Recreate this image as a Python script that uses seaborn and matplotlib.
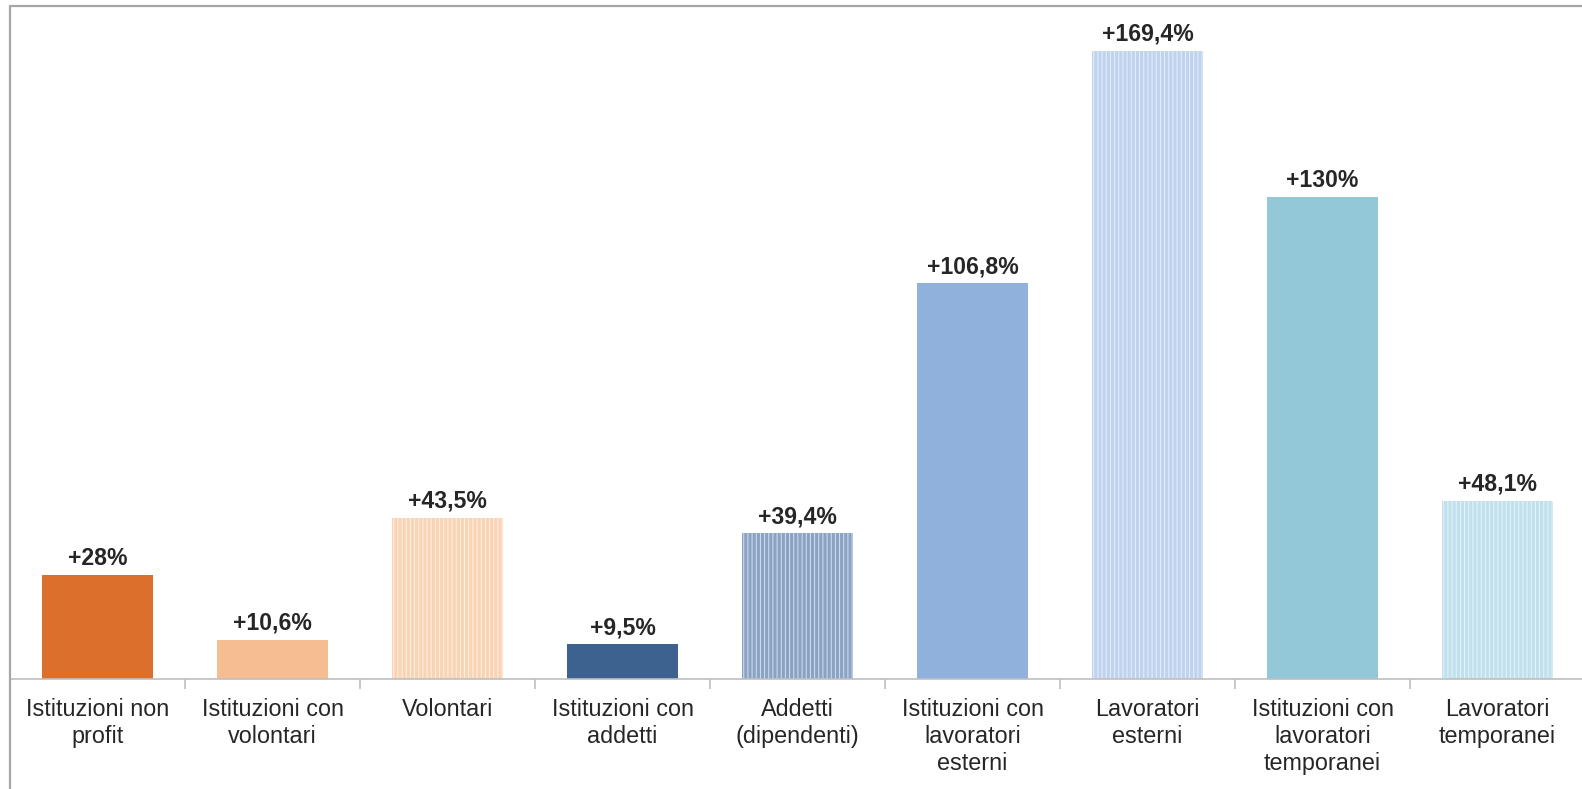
import matplotlib
matplotlib.use("Agg")
import matplotlib.pyplot as plt
import seaborn as sns
import pandas as pd

categorie = [
    "Istituzioni non\nprofit",
    "Istituzioni con\nvolontari",
    "Volontari",
    "Istituzioni con\naddetti",
    "Addetti\n(dipendenti)",
    "Istituzioni con\nlavoratori\nesterni",
    "Lavoratori\nesterni",
    "Istituzioni con\nlavoratori\ntemporanei",
    "Lavoratori\ntemporanei",
]
variazione = [28, 10.6, 43.5, 9.5, 39.4, 106.8, 169.4, 130, 48.1]
etichette = ["+28%", "+10,6%", "+43,5%", "+9,5%", "+39,4%", "+106,8%", "+169,4%", "+130%", "+48,1%"]

colori = ["#DD6F2C", "#F5BD91", "#F8D3B4", "#3D628F", "#8AA3C4",
          "#8FB1DB", "#BFD3EE", "#93C8D8", "#BFE0EC"]
tratteggio = [None, None, "#FDF0E4", None, "#D6E0EE", None, "#E8EFF9", None, "#E9F5F9"]

df = pd.DataFrame({"categoria": categorie, "valore": variazione})

sns.set_theme(style="white")
plt.rcParams["font.family"] = ["Liberation Sans", "DejaVu Sans"]
plt.rcParams["hatch.linewidth"] = 0.7

fig = plt.figure(figsize=(15.82, 7.89), dpi=100)
ax = fig.add_axes([10 / 1582, 110 / 789, 1575 / 1582, 673 / 789])

sns.barplot(data=df, x="categoria", y="valore", hue="categoria",
            palette=colori, width=0.635, legend=False, ax=ax, saturation=1)

for patch, hc in zip(ax.patches, tratteggio):
    patch.set_linewidth(0)
    if hc is not None:
        patch.set_hatch("||||")
        patch.set_edgecolor(hc)

for i, (v, t) in enumerate(zip(variazione, etichette)):
    ax.annotate(t, (i, v), xytext=(0, 7), textcoords="offset points",
                ha="center", va="baseline", fontsize=16.6, fontweight="bold",
                color="#262626")

ax.set_xlim(-0.5, 8.5)
ax.set_ylim(0, 181.4)
ax.set_xlabel("")
ax.set_ylabel("")
ax.set_yticks([])
ax.set_xticks(range(len(categorie)))
ax.set_xticklabels(categorie, fontsize=16.8, color="#262626", linespacing=1.2)
ax.set_xticks([i + 0.5 for i in range(8)], minor=True)
ax.tick_params(axis="x", which="major", length=0, pad=14)
ax.tick_params(axis="x", which="minor", length=7, width=1.2, color="#BFBFBF", bottom=True)

for s in ["top", "right", "left"]:
    ax.spines[s].set_visible(False)
ax.spines["bottom"].set_color("#BFBFBF")
ax.spines["bottom"].set_linewidth(1.2)

# cornice del grafico
fig.add_artist(plt.Line2D([10 / 1582, 10 / 1582], [0, 783 / 789], color="#A6A6A6", lw=1.6))
fig.add_artist(plt.Line2D([10 / 1582, 1], [783 / 789, 783 / 789], color="#A6A6A6", lw=1.6))

fig.savefig("out.png", dpi=100)
